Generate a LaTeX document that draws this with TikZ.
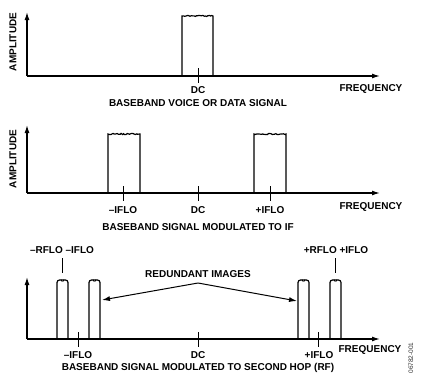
\documentclass[tikz,border=0pt]{standalone}
\usepackage{fontspec}
\setmainfont{Liberation Sans}
\usetikzlibrary{arrows.meta,decorations.pathmorphing}
\tikzset{
 ax/.style={line width=1.3pt,-{Latex[length=8pt,width=5pt]}},
 tk/.style={line width=0.8pt},
 bx/.style={line width=1.2pt},
 lead/.style={line width=1pt,-{Latex[length=8pt,width=5pt]}},
 lbl/.style={font=\fontsize{10}{12}\selectfont\bfseries, inner sep=0pt},
 wig/.style={decorate,decoration={random steps,segment length=1.3pt,amplitude=0.6pt}}
}
\newcommand\wbox[4]{%
 \draw[bx] (#1,#3) -- (#1,#4) decorate[wig]{-- (#2,#4)} -- (#2,#3);}
\newcommand\nbox[4]{%
 \draw[bx,rounded corners=2.5pt] (#1,#3) -- (#1,#4) -- ({(#1+#2)/2},#4) -- (#2,#4) -- (#2,#3);
 \draw[line width=0.7pt] ({(#1+#2)/2-1.5},#4-0.5) -- ({(#1+#2)/2-0.5},#4+1.5) ({(#1+#2)/2+0.5},#4+1.5) -- ({(#1+#2)/2+1.5},#4-0.5);}
\begin{document}
\begin{tikzpicture}[x=1pt,y=-1pt]
\pgfmathsetseed{7}
\useasboundingbox (0,0) rectangle (435,380);
% ---------- panel 1
\coordinate (o1) at (27,76);
\coordinate (y1) at (27,12);
\coordinate (x1) at (380,76);
\wbox{182}{213}{76}{16}
\draw[ax] (o1) -- (y1);
\draw[ax] (o1) -- (x1);
\coordinate (t1a) at (198,68); \coordinate (t1b) at (198,83);
\draw[tk] (t1a) -- (t1b);
\node[lbl,rotate=90] (amp1) at (13,42) {AMPLITUDE};
\node[lbl] (dc1) at (198,90) {DC};
\node[lbl] (f1) at (371,89) {FREQUENCY};
\node[lbl] (cap1) at (198,103) {BASEBAND VOICE OR DATA SIGNAL};
% ---------- panel 2
\coordinate (o2) at (27,193);
\coordinate (y2) at (27,125);
\coordinate (x2) at (380,193);
\wbox{108}{140}{193}{134}
\wbox{254}{286}{193}{134}
\draw[ax] (o2) -- (y2);
\draw[ax] (o2) -- (x2);
\foreach \xx/\nm in {123/a,198/b,270/c}{
 \coordinate (t2\nm1) at (\xx,186); \coordinate (t2\nm2) at (\xx,201);
 \draw[tk] (t2\nm1) -- (t2\nm2);}
\node[lbl,rotate=90] (amp2) at (13,159) {AMPLITUDE};
\node[lbl] (mi2) at (123,210) {\char"2013IFLO};
\node[lbl] (dc2) at (198,210) {DC};
\node[lbl] (pi2) at (270,210) {+IFLO};
\node[lbl] (f2) at (371,207) {FREQUENCY};
\node[lbl] (cap2) at (198,227) {BASEBAND SIGNAL MODULATED TO IF};
% ---------- panel 3
\coordinate (o3) at (27,339);
\coordinate (y3) at (27,277);
\coordinate (x3) at (380,339);
\nbox{57}{68}{339}{280}
\nbox{89}{100}{339}{280}
\nbox{298}{309}{339}{280}
\nbox{330}{341}{339}{280}
\draw[ax] (o3) -- (y3);
\draw[ax] (o3) -- (x3);
\foreach \xx/\nm in {78/a,198/b,318/c}{
 \coordinate (t3\nm1) at (\xx,332); \coordinate (t3\nm2) at (\xx,347);
 \draw[tk] (t3\nm1) -- (t3\nm2);}
\node[lbl] (mrf) at (62,250) {\char"2013RFLO \char"2013IFLO};
\node[lbl] (prf) at (336,250) {+RFLO +IFLO};
\coordinate (lm1) at (62,258); \coordinate (lm2) at (62,273);
\coordinate (lp1) at (335,258); \coordinate (lp2) at (335,273);
\draw[tk] (lm1) -- (lm2);
\draw[tk] (lp1) -- (lp2);
\node[lbl] (red) at (198,274) {REDUNDANT IMAGES};
\coordinate (apex) at (198,283);
\coordinate (imL) at (102,300);
\coordinate (imR) at (297,301);
\draw[lead] (apex) -- (imL);
\draw[lead] (apex) -- (imR);
\node[lbl] (mi3) at (78,355) {\char"2013IFLO};
\node[lbl] (dc3) at (198,355) {DC};
\node[lbl] (pi3) at (319,355) {+IFLO};
\node[lbl] (f3) at (370,350) {FREQUENCY};
\node[lbl] (cap3) at (198,368) {BASEBAND SIGNAL MODULATED TO SECOND HOP (RF)};
\node[font=\fontsize{6.5}{7}\selectfont,rotate=90,inner sep=0pt,text=black!80] (id) at (411,358) {06782-001};
\end{tikzpicture}
\end{document}
